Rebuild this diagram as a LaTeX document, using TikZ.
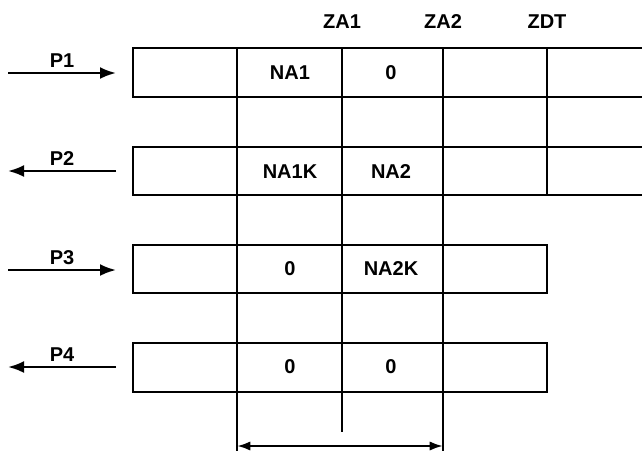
\documentclass[tikz,border=0pt]{standalone}
\usepackage{fontspec}
\setmainfont{Liberation Sans}
\usetikzlibrary{arrows.meta}
\begin{document}
\begin{tikzpicture}[x=0.75pt, y=-0.75pt, line width=1.8pt,
  every node/.style={font=\bfseries\fontsize{15}{17}\selectfont, inner sep=1pt},
  flow/.style={-{Latex[length=12pt,width=9pt]}},
  span/.style={{Latex[length=10pt,width=7pt]}-{Latex[length=10pt,width=7pt]}}]
  \useasboundingbox (0,0) rectangle (642,451);

  % Column labels
  \node (za1) at (342,22) {ZA1};
  \node (za2) at (443,22) {ZA2};
  \node (zdt) at (547,22) {ZDT};

  % Row 1 and 2 (open to the right)
  \draw (642,48) -- (133,48) -- (133,97) -- (642,97);
  \draw (642,147) -- (133,147) -- (133,195) -- (642,195);

  % Row 3 and 4
  \draw (133,245) rectangle (547,293);
  \draw (133,343) rectangle (547,392);

  % Column lines
  \draw (237,48) -- (237,451);
  \draw (342,48) -- (342,432);
  \draw (443,48) -- (443,451);
  \draw (547,48) -- (547,195);

  % Cell contents
  \node (na1)  at (290,73)  {NA1};
  \node (z1)   at (391,73)  {0};
  \node (na1k) at (290,172) {NA1K};
  \node (na2)  at (391,172) {NA2};
  \node (z3)   at (290,269) {0};
  \node (na2k) at (391,269) {NA2K};
  \node (z4a)  at (290,367) {0};
  \node (z4b)  at (391,367) {0};

  % Flow arrows
  \coordinate (p1w) at (8,73);  \coordinate (p1e) at (116,73);
  \coordinate (p2w) at (8,171); \coordinate (p2e) at (116,171);
  \coordinate (p3w) at (8,270); \coordinate (p3e) at (116,270);
  \coordinate (p4w) at (8,367); \coordinate (p4e) at (116,367);
  \draw[flow] (p1w) -- node[above=2pt] (p1) {P1} (p1e);
  \draw[flow] (p2e) -- node[above=2pt] (p2) {P2} (p2w);
  \draw[flow] (p3w) -- node[above=2pt] (p3) {P3} (p3e);
  \draw[flow] (p4e) -- node[above=2pt] (p4) {P4} (p4w);

  % Span between ZA columns
  \coordinate (sl) at (237,446);
  \coordinate (sr) at (443,446);
  \draw[span] (sl) -- (sr);
\end{tikzpicture}
\end{document}
